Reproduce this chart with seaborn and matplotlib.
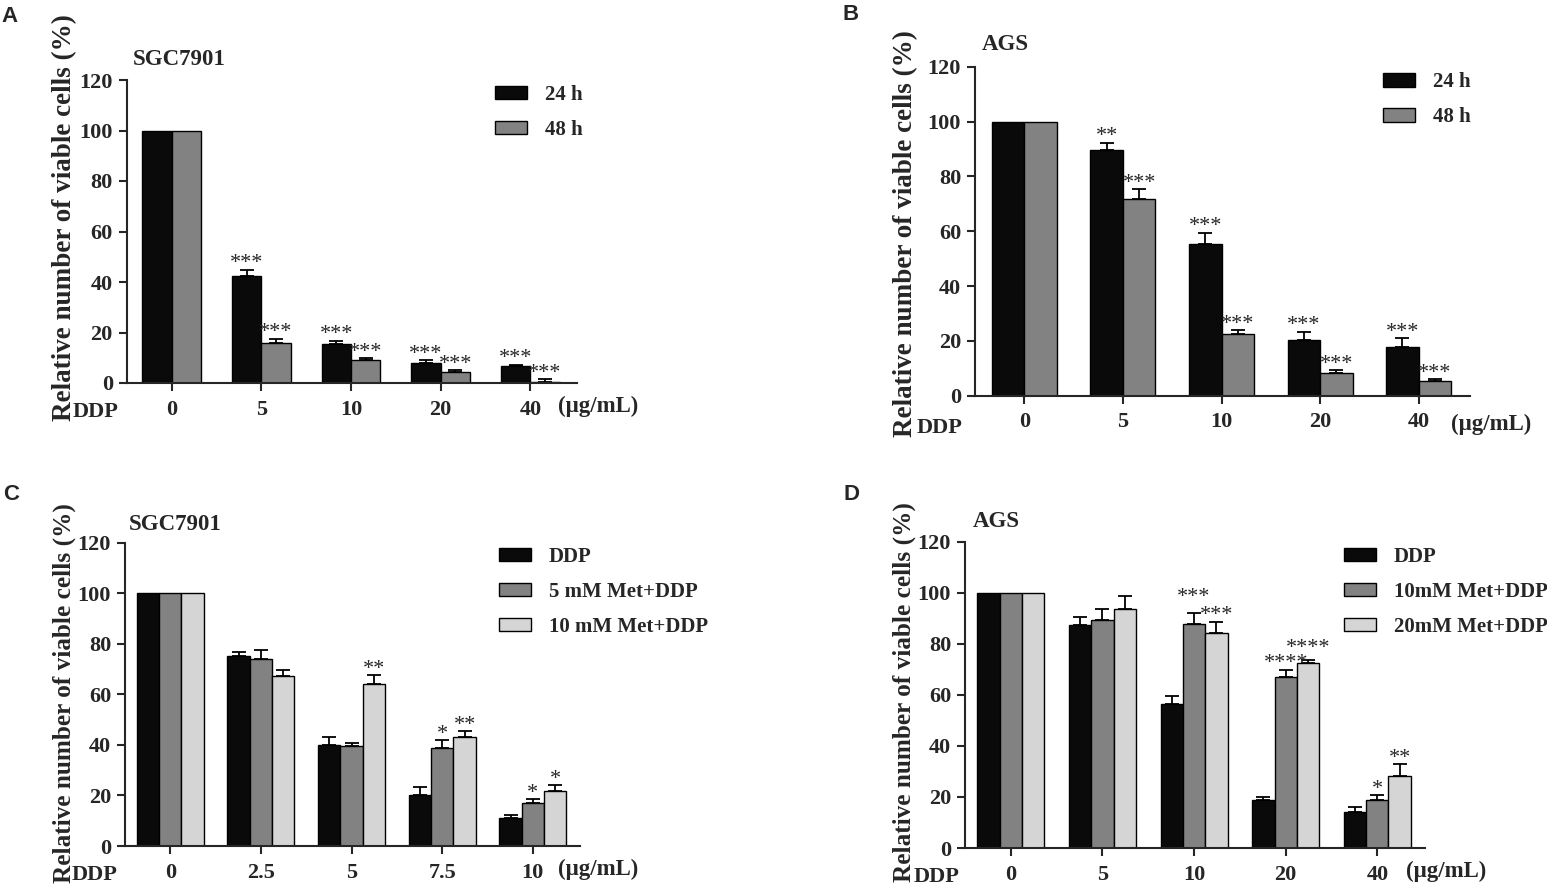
import numpy as np
import pandas as pd
import matplotlib
matplotlib.use("Agg")
import matplotlib.pyplot as plt
import matplotlib.patches as mpatches
import seaborn as sns

# ---- data ----
# A: SGC7901, DDP alone, 24 h vs 48 h
a_doses = ["0", "5", "10", "20", "40"]
a_groups = ["24 h", "48 h"]
a_24h = [100, 42.5, 15.5, 8.0, 6.6]
a_24h_err = [0, 2.4, 1.3, 1.1, 0.6]
a_48h = [100, 16.0, 9.0, 4.5, 0.3]
a_48h_err = [0, 1.5, 0.8, 0.5, 1.2]
a_24h_sig = ["", "***", "***", "***", "***"]
a_48h_sig = ["", "***", "***", "***", "***"]

# B: AGS, DDP alone, 24 h vs 48 h
b_doses = ["0", "5", "10", "20", "40"]
b_groups = ["24 h", "48 h"]
b_24h = [100, 89.6, 55.3, 20.4, 17.9]
b_24h_err = [0, 2.7, 4.2, 2.9, 3.0]
b_48h = [100, 71.6, 22.4, 8.3, 5.3]
b_48h_err = [0, 3.8, 1.6, 1.1, 0.7]
b_24h_sig = ["", "**", "***", "***", "***"]
b_48h_sig = ["", "***", "***", "***", "***"]

# C: SGC7901, DDP +/- Met
c_doses = ["0", "2.5", "5", "7.5", "10"]
c_groups = ["DDP", "5 mM Met+DDP", "10 mM Met+DDP"]
c_ddp = [100, 75.3, 40.0, 20.1, 11.1]
c_ddp_err = [0, 1.5, 3.3, 3.2, 1.1]
c_met5 = [100, 73.8, 39.5, 38.9, 17.1]
c_met5_err = [0, 3.8, 1.3, 2.9, 1.3]
c_met10 = [100, 67.4, 64.2, 43.0, 21.7]
c_met10_err = [0, 2.3, 3.3, 2.4, 2.4]
c_ddp_sig = ["", "", "", "", ""]
c_met5_sig = ["", "", "", "*", "*"]
c_met10_sig = ["", "", "**", "**", "*"]

# D: AGS, DDP +/- Met
d_doses = ["0", "5", "10", "20", "40"]
d_groups = ["DDP", "10mM Met+DDP", "20mM Met+DDP"]
d_ddp = [100, 87.4, 56.6, 19.0, 14.1]
d_ddp_err = [0, 3.2, 3.0, 1.0, 2.0]
d_met10 = [100, 89.3, 87.6, 67.1, 19.0]
d_met10_err = [0, 4.2, 4.6, 2.8, 1.7]
d_met20 = [100, 93.8, 84.1, 72.5, 28.2]
d_met20_err = [0, 5.0, 4.5, 1.1, 4.6]
d_ddp_sig = ["", "", "", "", ""]
d_met10_sig = ["", "", "***", "****", "*"]
d_met20_sig = ["", "", "***", "****", "**"]

colors2 = ["#0a0a0a", "#828282"]
colors3 = ["#0a0a0a", "#828282", "#d5d5d5"]

sns.set_theme(style="ticks")
plt.rcParams["font.family"] = ["Liberation Serif", "DejaVu Serif"]
plt.rcParams["font.weight"] = "bold"
plt.rcParams["axes.linewidth"] = 1.5

fig = plt.figure(figsize=(15.47, 8.84), dpi=100)


def panel(rect, doses, groups, vals, errs, sigs, colors, width, title,
          leg_xy, ylab_xy, ylab_size, ddp_xy, unit_xy, title_xy, letter, letter_xy,
          lifts=None):
    ax = fig.add_axes(rect)
    df = pd.DataFrame({
        "dose": np.tile(doses, len(groups)),
        "group": np.repeat(groups, len(doses)),
        "value": np.concatenate(vals),
    })
    sns.barplot(data=df, x="dose", y="value", hue="group", order=doses,
                hue_order=groups, palette=colors, width=width, errorbar=None,
                edgecolor="black", linewidth=1.0, saturation=1, legend=False, ax=ax)
    lifts = lifts or {}
    for k, (cont, err, sig) in enumerate(zip(ax.containers, errs, sigs)):
        xs = np.array([b.get_x() + b.get_width() / 2 for b in cont])
        ys = np.array([b.get_height() for b in cont])
        err = np.array(err)
        m = err > 0
        ax.errorbar(xs[m], ys[m], yerr=[np.zeros(m.sum()), err[m]], fmt="none",
                    ecolor="black", elinewidth=1.3, capsize=4.7, capthick=1.3, zorder=1)
        for i, (x, top, s) in enumerate(zip(xs, ys + err, sig)):
            if s:
                ax.annotate(s, (x, top), xytext=(0, 1.0 + lifts.get((k, i), 0)),
                            textcoords="offset points", ha="center", va="baseline",
                            fontsize=16, fontweight="normal")
    ax.set_ylim(0, 120)
    ax.set_xlim(-0.5, 4.52)
    ax.set_yticks(range(0, 121, 20))
    sns.despine(ax=ax)
    ax.tick_params(axis="both", direction="out", length=6, width=1.5, labelsize=16)
    ax.tick_params(axis="y", pad=4)
    ax.tick_params(axis="x", pad=6)
    for t in ax.get_xticklabels() + ax.get_yticklabels():
        t.set_fontweight("bold")
    ax.set_xlabel("")
    ax.set_ylabel("Relative number of viable cells (%)", fontsize=ylab_size, fontweight="bold")
    ax.yaxis.label.set_verticalalignment("baseline")
    ax.yaxis.set_label_coords(*ylab_xy)
    ax.text(*ddp_xy, "DDP", transform=ax.transAxes, ha="center", va="baseline",
            fontsize=16, fontweight="bold")
    ax.text(*unit_xy, "(\u03bcg/mL)", transform=ax.transAxes, ha="left", va="baseline",
            fontsize=16.5, fontweight="bold")
    ax.text(*title_xy, title, transform=ax.transAxes, ha="left", va="baseline",
            fontsize=16.5, fontweight="bold")
    handles = [mpatches.Patch(facecolor=c, edgecolor="black", linewidth=1.0) for c in colors]
    ax.legend(handles, groups, loc="center left", bbox_to_anchor=leg_xy, frameon=False,
              borderpad=0, borderaxespad=0, handlelength=1.55, handleheight=0.6,
              handletextpad=0.85, labelspacing=0.72,
              prop={"family": "Liberation Serif", "weight": "bold", "size": 15})
    fig.text(*letter_xy, letter, ha="center", va="center", fontsize=16,
             fontweight="bold", family="Liberation Sans")
    return ax


W, H = 1547, 884


def rect(l, r, t, b):
    return [l / W, 1 - b / H, (r - l) / W, (b - t) / H]


panel(rect(126.7, 577, 80, 383), a_doses, a_groups, [a_24h, a_48h], [a_24h_err, a_48h_err],
      [a_24h_sig, a_48h_sig], colors2, 0.655, "SGC7901",
      leg_xy=(0.818, 0.894), ylab_xy=(-0.124, 0.546), ylab_size=19.5,
      ddp_xy=(-0.070, -0.112), unit_xy=(0.958, -0.096), title_xy=(0.014, 1.051),
      letter="A", letter_xy=(10 / W, 1 - 17 / H))

panel(rect(975, 1470, 66.7, 395.7), b_doses, b_groups, [b_24h, b_48h], [b_24h_err, b_48h_err],
      [b_24h_sig, b_48h_sig], colors2, 0.66, "AGS",
      leg_xy=(0.824, 0.899), ylab_xy=(-0.128, 0.493), ylab_size=19.5,
      ddp_xy=(-0.072, -0.113), unit_xy=(0.962, -0.104), title_xy=(0.014, 1.051),
      letter="B", letter_xy=(851 / W, 1 - 14 / H))

panel(rect(125, 580, 542.7, 846), c_doses, c_groups, [c_ddp, c_met5, c_met10],
      [c_ddp_err, c_met5_err, c_met10_err], [c_ddp_sig, c_met5_sig, c_met10_sig],
      colors3, 0.74, "SGC7901",
      leg_xy=(0.822, 0.837), ylab_xy=(-0.119, 0.505), ylab_size=18.2,
      ddp_xy=(-0.066, -0.112), unit_xy=(0.952, -0.096), title_xy=(0.009, 1.042),
      letter="C", letter_xy=(11 / W, 1 - 495 / H))

panel(rect(965, 1425, 541.7, 848), d_doses, d_groups, [d_ddp, d_met10, d_met20],
      [d_ddp_err, d_met10_err, d_met20_err], [d_ddp_sig, d_met10_sig, d_met20_sig],
      colors3, 0.73, "AGS",
      leg_xy=(0.824, 0.836), ylab_xy=(-0.118, 0.510), ylab_size=18.2,
      ddp_xy=(-0.062, -0.111), unit_xy=(0.959, -0.095), title_xy=(0.017, 1.049),
      letter="D", letter_xy=(851 / W, 1 - 495 / H), lifts={(1, 2): 7, (2, 3): 4})

fig.savefig("out.png", dpi=100)
